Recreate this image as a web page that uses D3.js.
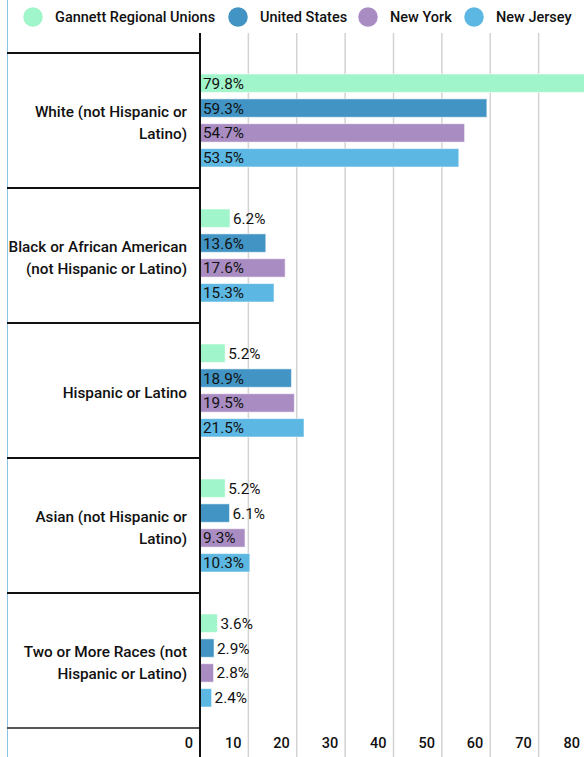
<!DOCTYPE html>
<html>
<head>
<meta charset="utf-8">
<script src="https://cdn.jsdelivr.net/npm/d3@7/dist/d3.min.js"></script>
<style>
  html, body { margin: 0; padding: 0; background: #fff; }
  svg { display: block; font-family: Roboto, "Noto Sans", sans-serif; }
</style>
</head>
<body>
<svg id="chart" width="584" height="757"></svg>
<script>
// Race / ethnicity shares (%) by population
const categories = [
  ["White (not Hispanic or", "Latino)"],
  ["Black or African American", "(not Hispanic or Latino)"],
  ["Hispanic or Latino"],
  ["Asian (not Hispanic or", "Latino)"],
  ["Two or More Races (not", "Hispanic or Latino)"]
];
const seriesNames = ["Gannett Regional Unions", "United States", "New York", "New Jersey"];
const gannett    = [79.8, 6.2, 5.2, 5.2, 3.6];
const unitedStates = [59.3, 13.6, 18.9, 6.1, 2.9];
const newYork    = [54.7, 17.6, 19.5, 9.3, 2.8];
const newJersey  = [53.5, 15.3, 21.5, 10.3, 2.4];
const tickValues = [0, 10, 20, 30, 40, 50, 60, 70, 80];
const colors = ["#a1f5ca", "#4194c3", "#a98cc2", "#5cb7e2"];

const seriesValues = [gannett, unitedStates, newYork, newJersey];
const svg = d3.select("#chart");
const W = 584, H = 757;
const axisX = 200, chartTop = 33, bandTop = 53, bandBottom = 728;

const x = d3.scaleLinear().domain([0, 80]).range([axisX, 587]);
const y = d3.scaleBand().domain(d3.range(categories.length)).range([bandTop, bandBottom]).padding(0);
const inner = d3.scaleBand().domain(d3.range(seriesNames.length))
  .range([21, y.bandwidth() - 21]).paddingInner(0.26).paddingOuter(0);

// left frame edge
svg.append("line").attr("x1", 7.5).attr("x2", 7.5).attr("y1", 0).attr("y2", H)
  .attr("stroke", "#8cc3e6").attr("stroke-width", 1);

// vertical gridlines
svg.append("g").selectAll("line").data(tickValues.filter(d => d > 0)).join("line")
  .attr("x1", d => x(d)).attr("x2", d => x(d))
  .attr("y1", chartTop).attr("y2", H)
  .attr("stroke", "#d3d3d3").attr("stroke-width", 1.5);

// category separators
const seps = d3.range(categories.length + 1).map(i => i < categories.length ? y(i) : bandBottom);
svg.append("g").selectAll("line").data(seps).join("line")
  .attr("x1", 7).attr("x2", axisX)
  .attr("y1", d => d).attr("y2", d => d)
  .attr("stroke", (d, i) => i === categories.length ? "#555" : "#111")
  .attr("stroke-width", 2);

// bars
const groups = svg.append("g").selectAll("g").data(categories).join("g")
  .attr("transform", (d, i) => `translate(0,${y(i)})`);

groups.each(function (cat, ci) {
  const g = d3.select(this);
  seriesValues.forEach((vals, si) => {
    const v = vals[ci];
    const bw = x(v) - x(0);
    const by = inner(si);
    g.append("rect")
      .attr("x", x(0)).attr("y", by)
      .attr("width", bw).attr("height", inner.bandwidth())
      .attr("fill", colors[si])
      .attr("stroke", "rgba(255,255,255,0.55)").attr("stroke-width", 1);
    const label = g.append("text")
      .attr("y", by + inner.bandwidth() / 2)
      .attr("dy", "0.36em")
      .attr("font-size", 15.3)
      .attr("fill", "#111")
      .text(v.toFixed(1) + "%");
    const tw = label.node().getComputedTextLength();
    if (tw + 7 <= bw) label.attr("x", x(0) + 3);
    else label.attr("x", x(v) + 3);
  });
});

// category labels
groups.append("text")
  .attr("text-anchor", "end")
  .attr("font-size", 15.3)
  .attr("font-weight", 500)
  .attr("fill", "#111")
  .each(function (lines) {
    const t = d3.select(this);
    const lh = 22;
    const c = y.bandwidth() / 2 + 2;
    lines.forEach((ln, k) => {
      t.append("tspan")
        .attr("x", 187)
        .attr("y", c - (lines.length - 1) * lh / 2 + k * lh)
        .attr("dy", "0.36em")
        .text(ln);
    });
  });

// vertical zero axis
svg.append("line").attr("x1", axisX).attr("x2", axisX)
  .attr("y1", chartTop).attr("y2", H)
  .attr("stroke", "#111").attr("stroke-width", 2);

// x tick labels
svg.append("g").selectAll("text").data(tickValues).join("text")
  .attr("x", d => x(d) - 7)
  .attr("y", 743).attr("dy", "0.36em")
  .attr("text-anchor", "end")
  .attr("font-size", 14.5)
  .attr("font-weight", 500)
  .attr("fill", "#111")
  .text(d => d);

// legend
const legendX = [33, 238, 368, 474];
const legend = svg.append("g").selectAll("g").data(seriesNames).join("g")
  .attr("transform", (d, i) => `translate(${legendX[i]},17)`);
legend.append("circle").attr("r", 9.75).attr("fill", (d, i) => colors[i]);
legend.append("text")
  .attr("x", 22).attr("dy", "0.36em")
  .attr("font-size", 14.5).attr("font-weight", 500)
  .attr("fill", "#111")
  .text(d => d);
</script>
</body>
</html>
